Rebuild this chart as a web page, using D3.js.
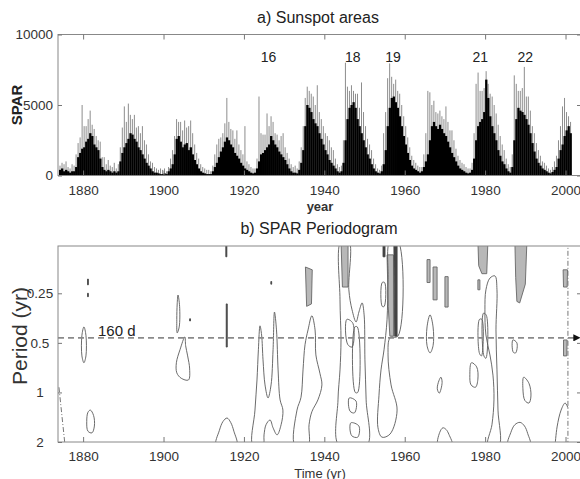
<!DOCTYPE html>
<html>
<head>
<meta charset="utf-8">
<script src="https://cdn.jsdelivr.net/npm/d3@7"></script>
<style>
body{margin:0;background:#fff}
svg{display:block;font-family:"Liberation Sans",Arial,sans-serif}
.axis path,.axis line{stroke:#777}
.axis text{fill:#333;font-size:13.5px}
.contour{fill:none;stroke:#5a5a5a;stroke-width:0.9}
</style>
</head>
<body>
<svg id="chart" width="580" height="479"></svg>
<script>
// sunspot areas, half-year samples from 1874.0
var sparStart=1874.0, sparStep=0.5;
// dense black level
var sparCore=[
 400,500,300,400,300,200,300,300,600,1300,
 1600,1900,2000,2400,2600,3000,2800,2200,2000,1800,
 1200,600,400,300,400,300,200,300,200,300,
 1000,1600,2000,2300,2600,3000,2900,2600,2400,2000,
 1800,1500,1200,900,700,500,300,200,200,150,
 100,100,150,100,300,500,800,1500,2600,2800,
 2400,2000,2200,2300,1800,2000,1500,1100,800,500,
 300,200,150,100,100,100,300,600,900,1300,
 1700,2000,2400,2700,2500,2200,2000,1600,1400,1200,
 900,700,500,400,300,200,150,200,500,1000,
 1500,1600,1800,2000,2200,2800,2500,2200,2000,1700,
 1500,1300,1100,800,500,300,200,200,150,400,
 900,1800,3500,5000,4800,4500,4000,3700,3500,3000,
 2600,2200,1800,1500,1100,900,700,500,300,200,
 300,900,2500,4000,4800,5000,5200,4800,4000,3500,
 3000,2500,2000,1500,1200,800,500,300,200,150,
 300,800,1800,3500,4800,5500,5600,5200,4800,4200,
 3500,2800,2200,1600,1100,700,500,400,300,200,
 300,600,1000,1500,2500,3500,3800,3500,3300,3600,
 3300,3000,2800,2400,2000,1600,1300,1000,700,500,
 400,300,200,150,200,400,1200,2500,3500,3800,
 4000,4500,6800,5500,4200,3500,3000,2500,1800,1400,
 1000,800,500,300,200,600,2500,4000,4800,4600,
 4500,4300,4000,3600,3000,2300,1700,1200,900,700,
 500,400,300,200,150,250,400,600,1200,1800,
 2200,2800,3200,3500,3000
];
// highest spikes (grey)
var sparPeak=[
 700,900,800,1000,600,500,800,700,1500,2300,
 2700,5000,3500,3500,4000,4600,3600,3300,2800,2500,
 2400,1300,1300,800,1100,700,600,900,500,800,
 2000,3400,4900,3800,5100,4300,4000,4300,3400,3500,
 3000,3500,2500,2200,1500,1000,900,600,500,400,
 500,400,500,300,600,1200,1800,2800,4000,3800,
 3800,3200,3900,3400,3500,3900,3000,2200,1600,1200,
 800,600,500,400,400,300,700,1500,2200,2600,
 2700,3000,3700,5500,3800,3300,3200,2600,3200,2200,
 1800,1500,3500,1000,800,600,500,500,1200,5600,
 3000,2900,2900,4400,3500,4200,3800,3000,2900,2500,
 2800,3000,2000,1600,1200,800,600,700,500,1000,
 2000,3500,5500,6300,6000,5800,5600,5000,6400,4500,
 4000,3500,3000,2800,2500,2000,1800,1200,800,600,
 700,2500,8000,6300,6000,6400,6000,5800,5800,4800,
 6600,4500,3500,2600,2200,1800,1200,800,500,400,
 700,3000,4500,6900,7950,7000,6500,6800,6000,5800,
 5000,4200,3500,2700,2000,1400,1100,900,700,600,
 600,1500,3000,6000,5900,5000,5300,4500,4400,4600,
 4200,4000,4900,3800,3200,3200,2500,1900,1400,1100,
 900,800,600,500,500,900,3000,6500,7300,6000,
 6000,6200,7400,6500,5800,5600,5000,4400,3600,2800,
 2200,1800,1200,800,600,1500,7100,6500,6000,6000,
 6200,7700,5600,5600,4600,3500,3000,2300,1800,1400,
 1000,900,700,500,400,600,1000,1400,2500,3500,
 4900,5500,4500,4200,3800
];
var cycleNames=["16","18","19","21","22"];
var cycleYears=[1926.1,1947.1,1957.1,1978.8,1990.0];
var cycleLevel=8400;

var yearTicks=[1880,1900,1920,1940,1960,1980,2000];
var sparTicks=[0,5000,10000];
var periodTicks=[0.25,0.5,1,2];
var periodLabels=["0.25","0.5","1","2"];
var periodLine=0.466, periodLineText="160 d", periodLineTextYear=1883.7;

// periodogram contours, points are [year, period]
var contourOutlines=[
 [[1880.2,0.40],[1880.7,0.45],[1880.7,0.60],[1880.2,0.66],[1879.7,0.60],[1879.7,0.45]],
 [[1881.8,1.28],[1882.6,1.38],[1882.8,1.6],[1882.2,1.76],[1881.2,1.72],[1880.9,1.5],[1881.2,1.32]],
 [[1903.6,0.256],[1904.0,0.30],[1903.9,0.40],[1903.4,0.435],[1903.3,0.36],[1903.4,0.29]],
 [[1905.3,0.46],[1904.1,0.55],[1903.2,0.66],[1903.3,0.76],[1904.4,0.82],[1906.2,0.84],[1906.5,0.72],[1906.0,0.60],[1905.5,0.52]],
 [[1913.1,2.1],[1913.9,1.7],[1914.8,1.5],[1915.8,1.43],[1916.7,1.52],[1917.5,1.72],[1918.2,2.1]],
 [[1922.25,2.1],[1922.75,1.28],[1923.25,0.84],[1923.6,0.55],[1924.0,0.394],[1924.4,0.448],[1924.75,0.634],[1925.25,0.90],[1926.0,1.08],[1926.75,0.90],[1927.25,0.55],[1927.6,0.325],[1928.1,0.417],[1928.5,0.73],[1929.0,1.11],[1929.7,1.28],[1929.25,1.57],[1928.25,1.81],[1927.25,1.64],[1926.5,1.47],[1925.5,1.57],[1925.0,1.81],[1924.75,2.1]],
 [[1932.7,2.1],[1933.2,1.28],[1934.2,1.07],[1934.7,0.73],[1935.2,0.513],[1935.95,0.417],[1936.9,0.342],[1937.7,0.417],[1937.9,0.592],[1938.9,0.764],[1939.4,0.90],[1938.4,1.11],[1936.9,1.31],[1936.2,1.57],[1935.95,2.1]],
 [[1943.65,2.1],[1943.4,1.11],[1943.9,0.73],[1944.15,0.48],[1943.9,0.274],[1944.15,0.12],[1946.1,0.12],[1946.1,0.238],[1946.9,0.315],[1947.9,0.373],[1948.6,0.325],[1949.4,0.286],[1949.9,0.338],[1950.1,0.634],[1950.4,1.11],[1950.6,2.1]],
 [[1945.6,0.36],[1947.1,0.38],[1946.9,0.53],[1945.8,0.51]],
 [[1946.2,1.08],[1947.9,1.13],[1947.5,1.33],[1946.4,1.30]],
 [[1946.6,1.53],[1948.6,1.6],[1948.3,1.87],[1946.8,1.83]],
 [[1947.6,0.40],[1948.2,0.40],[1948.3,1.0],[1947.7,1.0]],
 [[1956.35,0.12],[1958.3,0.12],[1958.3,0.455],[1956.35,0.466],[1955.85,0.592],[1956.6,0.90],[1958.1,1.28],[1956.35,1.79],[1954.35,1.87],[1953.35,1.64],[1953.6,1.04],[1954.1,0.73],[1954.85,0.551],[1955.6,0.362],[1955.85,0.207]],
 [[1954.4,0.215],[1955.0,0.215],[1954.9,0.30],[1954.4,0.30]],
 [[1966.3,0.338],[1967.05,0.40],[1967.05,0.52],[1966.3,0.575],[1965.55,0.52],[1965.55,0.40]],
 [[1969.0,0.808],[1969.3,0.87],[1968.6,1.01],[1968.1,0.95],[1968.5,0.85]],
 [[1968.3,2.1],[1968.7,1.75],[1969.5,1.64],[1970.3,1.68],[1971.0,1.8],[1971.8,2.1]],
 [[1980.7,2.1],[1981.7,1.57],[1982.2,1.11],[1981.95,0.785],[1981.2,0.592],[1980.2,0.448],[1979.95,0.315],[1980.2,0.238],[1981.2,0.202],[1982.45,0.196],[1982.95,0.238],[1982.7,0.417],[1982.95,0.73],[1983.2,1.28],[1983.45,2.1]],
 [[1976.6,0.66],[1977.9,0.70],[1978.2,0.83],[1977.6,0.93],[1976.5,0.90],[1976.2,0.78]],
 [[1986.9,0.48],[1987.9,0.50],[1987.6,0.575],[1987.0,0.57]],
 [[1989.6,0.808],[1990.9,0.88],[1991.4,1.05],[1990.9,1.16],[1989.9,1.12],[1989.4,0.95]],
 [[1985.7,2.1],[1986.4,1.75],[1987.4,1.57],[1988.7,1.52],[1989.8,1.6],[1990.6,1.78],[1991.2,2.1]],
 [[1978.6,0.36],[1979.2,0.36],[1979.1,0.60],[1978.6,0.58]],
 [[1979.6,0.33],[1980.3,0.34],[1980.2,0.62],[1979.7,0.60]]
];
var contourShaded=[
 [[1935.3,0.173],[1937.0,0.18],[1936.8,0.29],[1935.6,0.30]],
 [[1944.15,0.12],[1945.9,0.12],[1945.9,0.229],[1944.5,0.229]],
 [[1955.6,0.146],[1957.2,0.146],[1957.2,0.455],[1956.3,0.455],[1955.9,0.30]],
 [[1965.55,0.156],[1966.3,0.156],[1966.3,0.215],[1965.55,0.215]],
 [[1967.05,0.173],[1968.05,0.173],[1968.05,0.274],[1967.05,0.274]],
 [[1970.0,0.198],[1970.8,0.198],[1970.8,0.303],[1970.0,0.303]],
 [[1978.2,0.12],[1980.7,0.12],[1980.4,0.19],[1979.2,0.19],[1978.4,0.17]],
 [[1978.2,0.207],[1978.7,0.207],[1978.7,0.238],[1978.2,0.238]],
 [[1987.4,0.12],[1990.4,0.12],[1990.0,0.22],[1988.6,0.286],[1987.9,0.28],[1987.6,0.2]],
 [[1999.4,0.18],[2000.5,0.18],[2000.4,0.229],[1999.5,0.229]],
 [[1999.5,0.48],[2000.4,0.48],[2000.3,0.60],[1999.5,0.60]]
];
var contourDark=[
 [[1915.5,0.12],[1915.75,0.12],[1915.75,0.15],[1915.5,0.15]],
 [[1915.6,0.29],[1915.85,0.29],[1915.85,0.53],[1915.6,0.53]],
 [[1957.3,0.12],[1958.1,0.12],[1958.1,0.455],[1957.5,0.455]],
 [[1954.6,0.12],[1955.1,0.12],[1955.1,0.15],[1954.6,0.15]],
 [[1881.1,0.205],[1881.3,0.205],[1881.3,0.222],[1881.1,0.222]],
 [[1881.1,0.25],[1881.3,0.25],[1881.3,0.262],[1881.1,0.262]],
 [[1906.5,0.357],[1906.7,0.357],[1906.7,0.368],[1906.5,0.368]],
 [[1926.7,0.212],[1926.9,0.212],[1926.9,0.22],[1926.7,0.22]]
];
var openContours=[
 [[1997.4,2.1],[1997.9,1.62],[1998.9,1.28],[1999.9,1.16],[2000.6,1.24]]
];
var coneLines=[
 [[1873.99,0.93],[1875.5,2.1]],
 [[2000.6,0.12],[2000.6,2.1]]
];

var svg=d3.select("#chart");

var xScale=d3.scaleLinear().domain([1873.75,2003.85]).range([58,581]);
var yTop=d3.scaleLinear().domain([0,10000]).range([175.5,34.5]);
var yBot=d3.scaleLog().domain([0.129,2]).range([246,442]);

drawSpar();
drawPeriodogram();

function drawSpar(){
	let series=sparCore.map((v,i)=>({t:sparStart+i*sparStep,core:v,peak:sparPeak[i]}));

	svg.append("defs").append("clipPath").attr("id","clipTop")
	.append("rect").attr("x",58).attr("y",34.5).attr("width",523).attr("height",141);

	let g=svg.append("g").attr("clip-path","url(#clipTop)");

	g.selectAll(".spike")
	.data(series)
	.enter()
	.append("line")
	.classed("spike",true)
	.attr("x1",d=>xScale(d.t+sparStep/2))
	.attr("x2",d=>xScale(d.t+sparStep/2))
	.attr("y1",yTop(0))
	.attr("y2",d=>yTop(d.peak))
	.attr("stroke","#808080")
	.attr("stroke-width",0.9);

	g.selectAll(".core")
	.data(series)
	.enter()
	.append("rect")
	.classed("core",true)
	.attr("x",d=>xScale(d.t))
	.attr("width",d=>xScale(d.t+sparStep)-xScale(d.t)+0.3)
	.attr("y",d=>yTop(d.core))
	.attr("height",d=>yTop(0)-yTop(d.core))
	.attr("fill","#000");

	svg.append("rect")
	.attr("x",58).attr("y",34.5).attr("width",523).attr("height",141)
	.attr("fill","none").attr("stroke","#888");

	svg.append("g").attr("class","axis")
	.attr("transform","translate(0,"+yTop(0)+")")
	.call(d3.axisBottom(xScale).tickValues(yearTicks).tickFormat(d3.format("d")).tickSizeInner(-5).tickSizeOuter(0).tickPadding(9.5))
	.select(".domain").remove();

	svg.append("g").attr("class","axis")
	.attr("transform","translate(0,"+yTop(10000)+")")
	.call(d3.axisTop(xScale).tickValues(yearTicks).tickFormat("").tickSizeInner(-5).tickSizeOuter(0))
	.select(".domain").remove();

	svg.append("g").attr("class","axis")
	.attr("transform","translate(58,0)")
	.call(d3.axisLeft(yTop).tickValues(sparTicks).tickFormat(d3.format("d")).tickSizeInner(-4).tickSizeOuter(0).tickPadding(5))
	.select(".domain").remove();

	svg.append("g").attr("class","axis")
	.attr("transform","translate(581,0)")
	.call(d3.axisRight(yTop).tickValues(sparTicks).tickFormat("").tickSizeInner(-4).tickSizeOuter(0))
	.select(".domain").remove();

	svg.selectAll(".cycle")
	.data(cycleNames)
	.enter()
	.append("text")
	.classed("cycle",true)
	.attr("x",(d,i)=>xScale(cycleYears[i]))
	.attr("y",yTop(cycleLevel))
	.attr("dy","0.35em")
	.attr("text-anchor","middle")
	.attr("font-size","14px")
	.attr("fill","#222")
	.text(d=>d);

	svg.append("text")
	.attr("x",318).attr("y",23)
	.attr("text-anchor","middle")
	.attr("font-size","16px").attr("fill","#222")
	.text("a) Sunspot areas");

	svg.append("text")
	.attr("transform","translate(22,105) rotate(-90)")
	.attr("text-anchor","middle")
	.attr("font-size","15px").attr("font-weight","bold").attr("fill","#222")
	.text("SPAR");

	svg.append("text")
	.attr("x",320).attr("y",211)
	.attr("text-anchor","middle")
	.attr("font-size","13px").attr("font-weight","bold").attr("fill","#333")
	.text("year");
}

function drawPeriodogram(){
	svg.select("defs").append("clipPath").attr("id","clipBot")
	.append("rect").attr("x",58).attr("y",246).attr("width",523).attr("height",196);

	let g=svg.append("g").attr("clip-path","url(#clipBot)");

	let closedLine=d3.line()
	.x(d=>xScale(d[0]))
	.y(d=>yBot(d[1]))
	.curve(d3.curveCatmullRomClosed.alpha(0.5));

	let straightClosed=d3.line()
	.x(d=>xScale(d[0]))
	.y(d=>yBot(d[1]))
	.curve(d3.curveLinearClosed);

	let openLine=d3.line()
	.x(d=>xScale(d[0]))
	.y(d=>yBot(d[1]))
	.curve(d3.curveCatmullRom.alpha(0.5));

	g.selectAll(".shaded")
	.data(contourShaded)
	.enter()
	.append("path")
	.classed("shaded",true)
	.attr("d",straightClosed)
	.attr("fill","#b8b8b8")
	.attr("stroke","#666")
	.attr("stroke-width",0.9);

	g.selectAll(".dark")
	.data(contourDark)
	.enter()
	.append("path")
	.classed("dark",true)
	.attr("d",straightClosed)
	.attr("fill","#444")
	.attr("stroke","#444")
	.attr("stroke-width",0.9);

	g.selectAll(".outline")
	.data(contourOutlines)
	.enter()
	.append("path")
	.attr("class","contour outline")
	.attr("d",closedLine);

	g.selectAll(".openc")
	.data(openContours)
	.enter()
	.append("path")
	.attr("class","contour openc")
	.attr("d",openLine);

	g.selectAll(".cone")
	.data(coneLines)
	.enter()
	.append("path")
	.classed("cone",true)
	.attr("d",d3.line().x(d=>xScale(d[0])).y(d=>yBot(d[1])))
	.attr("fill","none")
	.attr("stroke","#777")
	.attr("stroke-width",1)
	.attr("stroke-dasharray","5,2,1,2");

	svg.select("defs").append("marker")
	.attr("id","arrow")
	.attr("viewBox","0 0 10 10")
	.attr("refX",2).attr("refY",5)
	.attr("markerWidth",4.5).attr("markerHeight",4.5)
	.attr("orient","auto")
	.append("path").attr("d","M0,0L10,5L0,10Z").attr("fill","#111");

	svg.append("line")
	.attr("x1",xScale(1873.75)).attr("x2",xScale(2002.3))
	.attr("y1",yBot(periodLine)).attr("y2",yBot(periodLine))
	.attr("stroke","#8a8a8a")
	.attr("stroke-width",1.6)
	.attr("stroke-dasharray","6,4")
	.attr("marker-end","url(#arrow)");

	svg.append("text")
	.attr("x",xScale(periodLineTextYear)).attr("y",yBot(periodLine)-2)
	.attr("font-size","15px").attr("fill","#222")
	.text(periodLineText);

	svg.append("rect")
	.attr("x",58).attr("y",246).attr("width",523).attr("height",196)
	.attr("fill","none").attr("stroke","#888");

	svg.append("g").attr("class","axis")
	.attr("transform","translate(0,442)")
	.call(d3.axisBottom(xScale).tickValues(yearTicks).tickFormat(d3.format("d")).tickSizeInner(-5).tickSizeOuter(0).tickPadding(9))
	.select(".domain").remove();

	let yAx=svg.append("g").attr("class","axis")
	.attr("transform","translate(58,0)")
	.call(d3.axisLeft(yBot).tickValues(periodTicks).tickFormat((d,i)=>periodLabels[i]).tickSizeInner(-4).tickSizeOuter(0));
	yAx.select(".domain").remove();
	yAx.selectAll("text").attr("text-anchor","middle").attr("x",-18);

	svg.append("g").attr("class","axis")
	.attr("transform","translate(581,0)")
	.call(d3.axisRight(yBot).tickValues(periodTicks).tickFormat("").tickSizeInner(-4).tickSizeOuter(0))
	.select(".domain").remove();

	svg.append("text")
	.attr("x",319).attr("y",234)
	.attr("text-anchor","middle")
	.attr("font-size","16px").attr("fill","#222")
	.text("b) SPAR Periodogram");

	svg.append("text")
	.attr("transform","translate(27,336) rotate(-90)")
	.attr("text-anchor","middle")
	.attr("font-size","21px").attr("fill","#333")
	.text("Period (yr)");

	svg.append("text")
	.attr("x",320).attr("y",477.5)
	.attr("text-anchor","middle")
	.attr("font-size","13px").attr("fill","#333")
	.text("Time (yr)");
}
</script>
</body>
</html>
